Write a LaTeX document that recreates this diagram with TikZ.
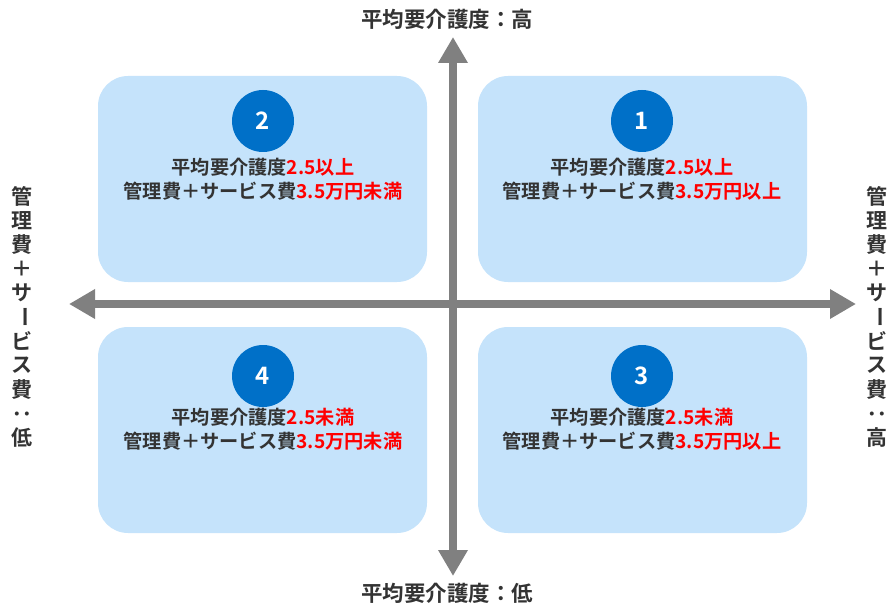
\documentclass[tikz,border=0pt]{standalone}
\usepackage{fontspec}
\setmainfont{Noto Sans CJK JP}[BoldFont={Noto Sans CJK JP Bold}]
\usetikzlibrary{arrows.meta}
\definecolor{boxblue}{HTML}{C5E3FB}
\definecolor{circblue}{HTML}{0070C8}
\definecolor{axisgray}{HTML}{808080}
\definecolor{txt}{HTML}{333333}
\definecolor{hl}{HTML}{FF0000}
\newcommand{\hi}[1]{\textcolor{hl}{#1}}
\begin{document}
\begin{tikzpicture}[x=1pt,y=-1pt,
  quad/.style={fill=boxblue,draw=none,rounded corners=30pt,minimum width=329pt,minimum height=206pt,inner sep=0pt},
  numc/.style={circle,fill=circblue,minimum size=62pt,inner sep=0pt,text=white,font=\bfseries\fontsize{24}{24}\selectfont},
  btxt/.style={text=txt,font=\bfseries\fontsize{19.2}{19.2}\selectfont,inner sep=0pt,anchor=center},
  axlbl/.style={text=txt,font=\bfseries\fontsize{21.5}{21.5}\selectfont,inner sep=0pt},
  vch/.style={text=txt,font=\bfseries\fontsize{21}{21}\selectfont,inner sep=0pt},
  axis/.style={draw=axisgray,line width=8pt,-{Triangle[width=28pt,length=26pt]}}
]
\useasboundingbox (0,0) rectangle (892,607);
% quadrant boxes
\node[quad] (q2) at (262.5,179) {};
\node[quad] (q1) at (642.5,179) {};
\node[quad] (q4) at (262.5,430) {};
\node[quad] (q3) at (642.5,430) {};
% axes
\coordinate (c) at (453,304);
\coordinate (top) at (453,37);
\coordinate (bot) at (453,576);
\coordinate (lft) at (69,304);
\coordinate (rgt) at (856,304);
\draw[axis] (c) -- (top);
\draw[axis] (c) -- (bot);
\draw[axis] (c) -- (lft);
\draw[axis] (c) -- (rgt);
% circles
\node[numc] (n2) at (263,121) {2};
\node[numc] (n1) at (642,121) {1};
\node[numc] (n4) at (263,376) {4};
\node[numc] (n3) at (642,376) {3};
% box texts
\node[btxt] (t2a) at (263,167) {平均要介護度\hi{2.5以上}};
\node[btxt] (t2b) at (263,191) {管理費＋サービス費\hi{3.5万円未満}};
\node[btxt] (t1a) at (642,167) {平均要介護度\hi{2.5以上}};
\node[btxt] (t1b) at (642,191) {管理費＋サービス費\hi{3.5万円以上}};
\node[btxt] (t4a) at (263,417) {平均要介護度\hi{2.5未満}};
\node[btxt] (t4b) at (263,441) {管理費＋サービス費\hi{3.5万円未満}};
\node[btxt] (t3a) at (642,417) {平均要介護度\hi{2.5未満}};
\node[btxt] (t3b) at (642,441) {管理費＋サービス費\hi{3.5万円以上}};
% axis labels
\node[axlbl] (ltop) at (447,19) {平均要介護度：高};
\node[axlbl] (lbot) at (447,593) {平均要介護度：低};
% vertical labels
\foreach \ch [count=\i] in {管,理,費,＋,サ,ー,ビ,ス,費,：,低} {
  \pgfmathsetmacro{\yy}{196+24.2*(\i-1)}
  \ifnum\i=6 \node[vch,rotate=-90] (lv\i) at (22,\yy) {\ch};
  \else\ifnum\i=10 \node[vch,rotate=-90] (lv\i) at (22,\yy) {\ch};
  \else \node[vch] (lv\i) at (22,\yy) {\ch};\fi\fi
}
\foreach \ch [count=\i] in {管,理,費,＋,サ,ー,ビ,ス,費,：,高} {
  \pgfmathsetmacro{\yy}{196+24.2*(\i-1)}
  \ifnum\i=6 \node[vch,rotate=-90] (rv\i) at (877,\yy) {\ch};
  \else\ifnum\i=10 \node[vch,rotate=-90] (rv\i) at (877,\yy) {\ch};
  \else \node[vch] (rv\i) at (877,\yy) {\ch};\fi\fi
}
\end{tikzpicture}
\end{document}
